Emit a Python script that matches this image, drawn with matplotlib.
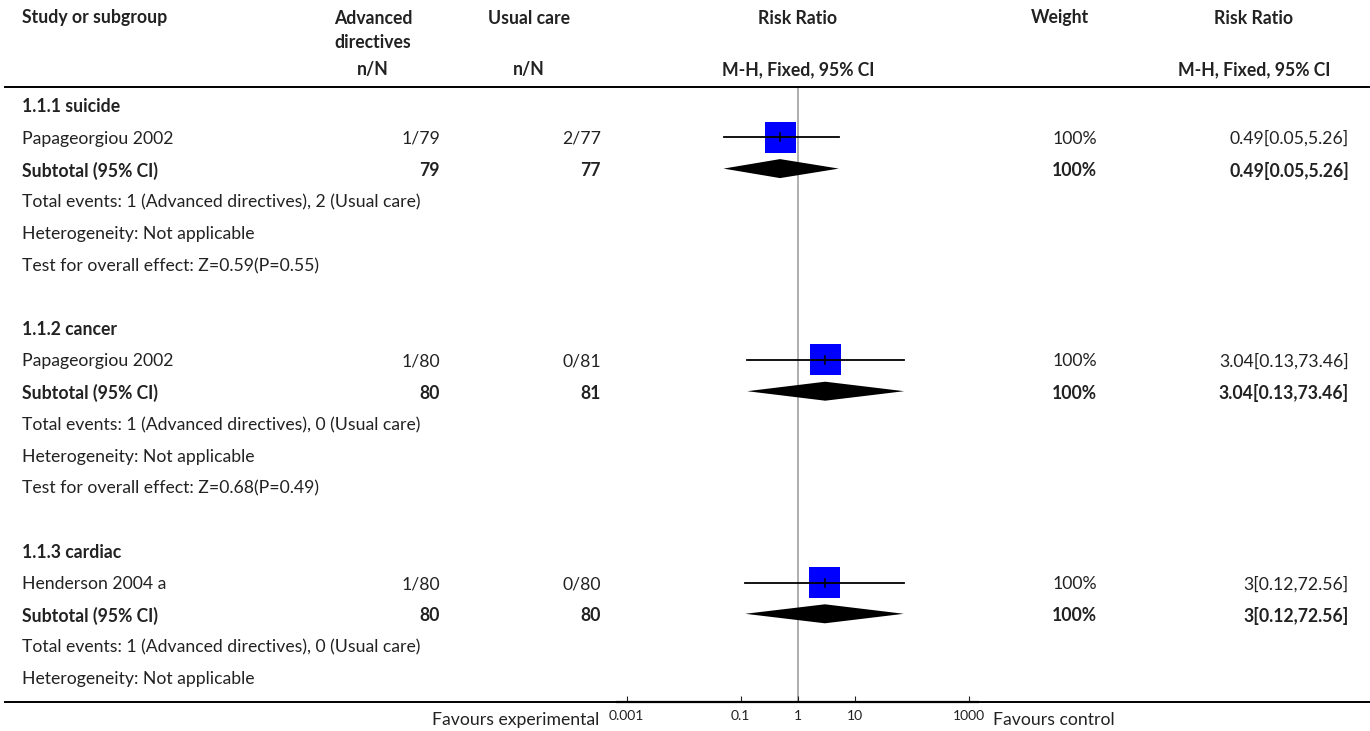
import numpy as np
import matplotlib.pyplot as plt
from matplotlib.patches import Polygon
from matplotlib.ticker import FixedLocator, NullLocator

plt.rcParams['font.family'] = ['Lato', 'DejaVu Sans']

# Subgroups and their single trial
subgroups = ['1.1.1 suicide', '1.1.2 cancer', '1.1.3 cardiac']
studies = ['Papageorgiou 2002', 'Papageorgiou 2002', 'Henderson 2004 a']
exp_events = [1, 1, 1]
exp_total = [79, 80, 80]
ctl_events = [2, 0, 0]
ctl_total = [77, 81, 80]
weights = [100, 100, 100]
rr = [0.49, 3.04, 3]
rr_lo = [0.05, 0.13, 0.12]
rr_hi = [5.26, 73.46, 72.56]
overall_tests = ['Z=0.59(P=0.55)', 'Z=0.68(P=0.49)', None]

exp_name = 'Advanced directives'
ctl_name = 'Usual care'
tick_values = [0.001, 0.1, 1, 10, 1000]
tick_labels = ['0.001', '0.1', '1', '10', '1000']

W, H = 1370, 731
fig = plt.figure(figsize=(W / 100, H / 100), dpi=100)

# Text layer in pixel coordinates
ax = fig.add_axes([0, 0, 1, 1])
ax.set_xlim(0, W)
ax.set_ylim(H, 0)
ax.axis('off')

# Forest panel: log scale, bottom spine used as the risk ratio axis
plot_left, plot_right = 617, 978
plot_top, plot_bottom = 88, 702
fax = fig.add_axes([plot_left / W, (H - plot_bottom) / H,
                    (plot_right - plot_left) / W, (plot_bottom - plot_top) / H])
fax.set_xscale('log')
fax.set_xlim(10 ** -3.17, 10 ** 3.163)
fax.set_ylim(plot_bottom, plot_top)
fax.patch.set_alpha(0)
for side in ['top', 'left', 'right']:
    fax.spines[side].set_visible(False)
fax.spines['bottom'].set_linewidth(1.6)
fax.xaxis.set_major_locator(FixedLocator(tick_values))
fax.xaxis.set_minor_locator(NullLocator())
fax.set_xticklabels(tick_labels)
fax.tick_params(axis='x', direction='in', length=4, width=0.8, pad=6, labelsize=10, colors='#222222')
fax.yaxis.set_major_locator(NullLocator())
fax.axvline(1, color='#999999', lw=1.1, zorder=1)

txt = dict(fontsize=12.7, color='#222222', va='center')
bold = dict(txt, fontweight='bold')

# Column positions
x_name = 22
x_exp, x_ctl = 440, 601
x_weight, x_rr = 1097, 1349

# Header
ax.text(x_name, 18, 'Study or subgroup', ha='left', **bold)
ax.text(373, 18, 'Advanced', ha='center', **bold)
ax.text(373, 42, 'directives', ha='center', **bold)
ax.text(529, 18, 'Usual care', ha='center', **bold)
ax.text(798, 18, 'Risk Ratio', ha='center', **bold)
ax.text(1060, 18, 'Weight', ha='center', **bold)
ax.text(1254, 18, 'Risk Ratio', ha='center', **bold)
ax.text(373, 70, 'n/N', ha='center', **bold)
ax.text(529, 70, 'n/N', ha='center', **bold)
ax.text(798, 70, 'M-H, Fixed, 95% CI', ha='center', **bold)
ax.text(1254, 70, 'M-H, Fixed, 95% CI', ha='center', **bold)
ax.plot([5, W], [87, 87], color='black', lw=1.4)

# Body rows
row_step = 31.8
row = 0
y0 = 107
box_px = 31
px_per_decade = (plot_right - plot_left) / (3.163 + 3.17)

for g in range(len(subgroups)):
    y = lambda r: y0 + r * row_step
    est, lo, hi = rr[g], rr_lo[g], rr_hi[g]
    rr_text = f'{est:g}[{lo:g},{hi:g}]'

    ax.text(x_name, y(row), subgroups[g], ha='left', **bold)
    row += 1

    # trial row: weighted box, CI line drawn over it
    yr = y(row)
    ax.text(x_name, yr, studies[g], ha='left', **txt)
    ax.text(x_exp, yr, f'{exp_events[g]}/{exp_total[g]}', ha='right', **txt)
    ax.text(x_ctl, yr, f'{ctl_events[g]}/{ctl_total[g]}', ha='right', **txt)
    ax.text(x_weight, yr, f'{weights[g]}%', ha='right', **txt)
    ax.text(x_rr, yr, rr_text, ha='right', **txt)
    ym = yr - 1.5
    half = np.sqrt(weights[g] / 100) * box_px / 2 / px_per_decade
    fax.fill([est * 10 ** -half, est * 10 ** half, est * 10 ** half, est * 10 ** -half],
             [ym - box_px / 2, ym - box_px / 2, ym + box_px / 2, ym + box_px / 2],
             color='#0000ff', lw=0, zorder=2)
    fax.plot([lo, hi], [ym, ym], color='black', lw=1.3, zorder=3)
    fax.plot([est, est], [ym - 4, ym + 4], color='black', lw=1.1, zorder=4)
    row += 1

    # pooled row
    yr = y(row)
    ax.text(x_name, yr, 'Subtotal (95% CI)', ha='left', **bold)
    ax.text(x_exp, yr, f'{exp_total[g]}', ha='right', **bold)
    ax.text(x_ctl, yr, f'{ctl_total[g]}', ha='right', **bold)
    ax.text(x_weight, yr, f'{weights[g]}%', ha='right', **bold)
    ax.text(x_rr, yr, rr_text, ha='right', **bold)
    ym = yr - 2
    fax.add_patch(Polygon([(lo, ym), (est, ym - 9.5), (hi, ym), (est, ym + 9.5)],
                          closed=True, color='black', lw=0, zorder=3))
    row += 1

    ax.text(x_name, y(row), f'Total events: {exp_events[g]} ({exp_name}), '
            f'{ctl_events[g]} ({ctl_name})', ha='left', **txt)
    row += 1
    ax.text(x_name, y(row), 'Heterogeneity: Not applicable', ha='left', **txt)
    row += 1
    if overall_tests[g]:
        ax.text(x_name, y(row), f'Test for overall effect: {overall_tests[g]}', ha='left', **txt)
        row += 1
    row += 1

# Bottom rule and direction labels
ax.plot([5, W], [702, 702], color='black', lw=1.4, zorder=0)
ax.text(599, 720, 'Favours experimental', ha='right', **txt)
ax.text(993, 720, 'Favours control', ha='left', **txt)

fig.savefig('out.png', dpi=100)
